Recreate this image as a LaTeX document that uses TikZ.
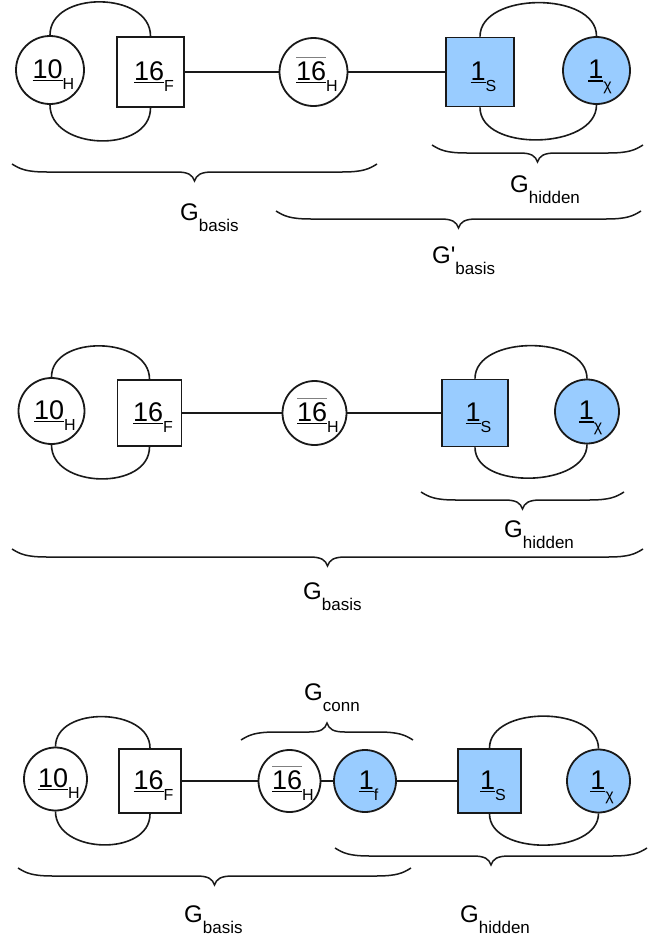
\documentclass[tikz,border=0pt]{standalone}
\usepackage{fontspec}
\setmainfont{Liberation Sans}
\definecolor{hidblue}{RGB}{153,204,255}
\definecolor{ink}{RGB}{25,25,25}

% underline / overline of a representation label
\newcommand\ubar[1]{\setbox0=\hbox{#1}\rlap{\rule[-3.2bp]{\wd0}{1.5bp}}\box0}
\newcommand\obar[1]{\setbox0=\hbox{#1}\rlap{\textcolor{gray}{\rule[22bp]{\wd0}{1bp}}}\box0}
% representation with its lowered index
\newcommand\rep[2]{\hspace*{7bp}#1\raisebox{-11.5bp}{\fontsize{16bp}{16bp}\selectfont #2}}
% group name with lowered index
\newcommand\glab[2][]{G#1\raisebox{-11bp}{\fontsize{17bp}{17bp}\selectfont #2}}

% horizontal curly brace: left x, right x, y of the ends, direction (1 = tip below, -1 = tip above)
\newcommand\gbrace[4]{%
  \pgfmathsetmacro\bm{(#1+#2)/2}%
  \pgfmathsetmacro\ya{#3+5*(#4)}%
  \pgfmathsetmacro\yb{#3+8*(#4)}%
  \pgfmathsetmacro\yc{#3+11*(#4)}%
  \pgfmathsetmacro\yd{#3+17*(#4)}%
  \draw[bracestroke] (#1,#3)
    .. controls ({#1+8},\ya) and ({#1+14},\yb) .. ({#1+35},\yb)
    -- ({\bm-18},\yb)
    .. controls ({\bm-6},\yb) and ({\bm-2},\yc) .. (\bm,\yd)
    .. controls ({\bm+2},\yc) and ({\bm+6},\yb) .. ({\bm+18},\yb)
    -- ({#2-35},\yb)
    .. controls ({#2-14},\yb) and ({#2-8},\ya) .. (#2,#3);}

\tikzset{
  rep/.style={draw=ink, line width=1.8bp, inner sep=0pt, text=black,
    font=\fontsize{27bp}{27bp}\selectfont, text height=24bp, text depth=8bp},
  higgs/.style={rep, circle, minimum size=#1},
  ferm/.style 2 args={rep, rectangle, minimum width=#1, minimum height=#2},
  hid/.style={fill=hidblue},
  edge/.style={draw=ink, line width=1.6bp},
  loopline/.style={draw=ink, line width=1.6bp},
  bracestroke/.style={draw=ink, line width=1.5bp},
  glabel/.style={inner sep=0pt, anchor=base west, text=black,
    font=\fontsize{24bp}{24bp}\selectfont},
}

\begin{document}
\begin{tikzpicture}[x=1bp, y=-1bp]
\useasboundingbox (0,0) rectangle (658,939);
\fill[white] (0,0) rectangle (658,939);

% ---------- first arrangement ----------
\node[higgs=68bp] (a10) at (50,70) {\rep{\ubar{10}}{H}};
\node[ferm={67bp}{70bp}] (a16) at (150.5,72) {\rep{\ubar{16}}{F}};
\node[higgs=68bp] (a16b) at (313.5,72) {\rep{\ubar{\obar{16}}}{H}};
\node[ferm={68bp}{69bp}, hid] (a1s) at (480,72) {\rep{\ubar{1}}{S}};
\node[higgs=67bp, hid] (a1x) at (596.5,70.5) {\rep{\ubar{1}}{χ}};

\draw[loopline] (a10.north) .. controls +(0,-45) and +(0,-45) .. (a16.north);
\draw[loopline] (a10.south) .. controls +(0,46) and +(0,46) .. (a16.south);
\draw[loopline] (a1s.north) .. controls +(0,-45) and +(0,-45) .. (a1x.north);
\draw[loopline] (a1s.south) .. controls +(0,45) and +(0,45) .. (a1x.south);
\draw[edge] (a16.east) -- (a16b.west);
\draw[edge] (a16b.east) -- (a1s.west);

\gbrace{12}{377}{164}{1}
\gbrace{432}{643}{145}{1}
\gbrace{276}{641}{211}{1}
\node[glabel] (abasis) at (180,220) {\glab{basis}};
\node[glabel] (ahidden) at (510,192) {\glab{hidden}};
\node[glabel] (abasisp) at (432,263) {\glab[\textquotesingle]{basis}};

% ---------- second arrangement ----------
\node[higgs=66bp] (b10) at (51.5,411) {\rep{\ubar{10}}{H}};
\node[ferm={64bp}{66bp}] (b16) at (149.5,413) {\rep{\ubar{16}}{F}};
\node[higgs=64bp] (b16b) at (314.5,413) {\rep{\ubar{\obar{16}}}{H}};
\node[ferm={66bp}{67bp}, hid] (b1s) at (475,413) {\rep{\ubar{1}}{S}};
\node[higgs=64bp, hid] (b1x) at (587,411.5) {\rep{\ubar{1}}{χ}};

\draw[loopline] (b10.north) .. controls +(0,-43) and +(0,-43) .. (b16.north);
\draw[loopline] (b10.south) .. controls +(0,44) and +(0,44) .. (b16.south);
\draw[loopline] (b1s.north) .. controls +(0,-44) and +(0,-44) .. (b1x.north);
\draw[loopline] (b1s.south) .. controls +(0,43) and +(0,43) .. (b1x.south);
\draw[edge] (b16.east) -- (b16b.west);
\draw[edge] (b16b.east) -- (b1s.west);

\gbrace{421}{624}{492}{1}
\gbrace{12}{643}{549}{1}
\node[glabel] (bhidden) at (504,537) {\glab{hidden}};
\node[glabel] (bbasis) at (303,599) {\glab{basis}};

% ---------- third arrangement ----------
\node[higgs=63bp] (c10) at (55.5,779) {\rep{\ubar{10}}{H}};
\node[ferm={62bp}{64bp}] (c16) at (150,781) {\rep{\ubar{16}}{F}};
\node[higgs=62bp] (c16b) at (289.5,781) {\rep{\ubar{\obar{16}}}{H}};
\node[higgs=62bp, hid] (c1f) at (365,781) {\rep{\ubar{1}}{f}};
\node[ferm={63bp}{64bp}, hid] (c1s) at (489.5,781) {\rep{\ubar{1}}{S}};
\node[higgs=63bp, hid] (c1x) at (598.5,781) {\rep{\ubar{1}}{χ}};

\draw[loopline] (c10.north) .. controls +(0,-41) and +(0,-41) .. (c16.north);
\draw[loopline] (c10.south) .. controls +(0,43) and +(0,43) .. (c16.south);
\draw[loopline] (c1s.north) .. controls +(0,-43) and +(0,-43) .. (c1x.north);
\draw[loopline] (c1s.south) .. controls +(0,42) and +(0,42) .. (c1x.south);
\draw[edge] (c16.east) -- (c16b.west);
\draw[edge] (c16b.east) -- (c1f.west);
\draw[edge] (c1f.east) -- (c1s.west);

\gbrace{241}{413}{740}{-1}
\gbrace{335}{647}{848}{1}
\gbrace{18}{411}{868}{1}
\node[glabel] (cconn) at (304,700) {\glab{conn}};
\node[glabel] (cbasis) at (184,922) {\glab{basis}};
\node[glabel] (chidden) at (460,922) {\glab{hidden}};
\end{tikzpicture}
\end{document}
